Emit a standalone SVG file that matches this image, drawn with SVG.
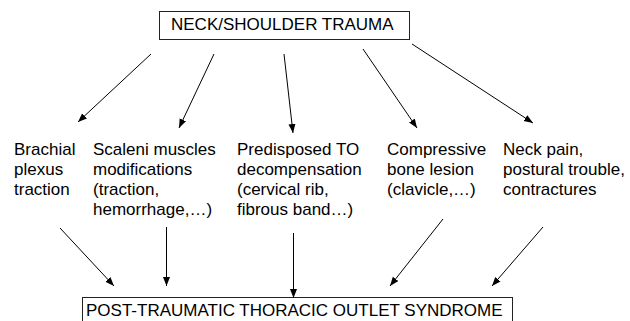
<svg xmlns="http://www.w3.org/2000/svg" width="630" height="321" viewBox="0 0 630 321">
<style>
text{font-family:"Liberation Sans",Arial,sans-serif;font-size:17px;fill:#000}
.box{fill:#fff;stroke:#222;stroke-width:1}
.c{stroke:#000;stroke-width:1;fill:none;marker-end:url(#ah)}
</style>
<defs>
<marker id="ah" markerUnits="userSpaceOnUse" markerWidth="10" markerHeight="8" refX="9" refY="3.5" orient="auto">
<path d="M0,0 L9,3.5 L0,7 z" fill="#000"/>
</marker>
</defs>
<rect width="630" height="321" fill="#fff"/>
<g id="top">
<rect class="box" x="159.5" y="11.5" width="250" height="28"/>
<text x="171" y="30">NECK/SHOULDER TRAUMA</text>
</g>
<g id="brachial">
<text x="14" y="155">Brachial</text>
<text x="14" y="175">plexus</text>
<text x="14" y="195">traction</text>
</g>
<g id="scaleni">
<text x="93" y="155">Scaleni muscles</text>
<text x="93" y="175">modifications</text>
<text x="93" y="195">(traction,</text>
<text x="93" y="215">hemorrhage,…)</text>
</g>
<g id="predisposed">
<text x="237" y="155">Predisposed TO</text>
<text x="237" y="175">decompensation</text>
<text x="237" y="195">(cervical rib,</text>
<text x="237" y="215">fibrous band…)</text>
</g>
<g id="compressive">
<text x="387" y="155">Compressive</text>
<text x="387" y="175">bone lesion</text>
<text x="387" y="195">(clavicle,…)</text>
</g>
<g id="neck">
<text x="503" y="155">Neck pain,</text>
<text x="503" y="175">postural trouble,</text>
<text x="503" y="195">contractures</text>
</g>
<g id="bottom">
<rect class="box" x="82.5" y="297.5" width="430" height="30"/>
<text x="86" y="316">POST-TRAUMATIC THORACIC OUTLET SYNDROME</text>
</g>
<g id="connectors">
<line class="c" x1="151" y1="54" x2="78" y2="122"/>
<line class="c" x1="214" y1="54" x2="179" y2="128"/>
<line class="c" x1="284" y1="54" x2="293" y2="133"/>
<line class="c" x1="363" y1="49" x2="417" y2="128"/>
<line class="c" x1="412" y1="44" x2="533" y2="123"/>
<line class="c" x1="60" y1="228" x2="114" y2="286"/>
<line class="c" x1="166.5" y1="227" x2="166.5" y2="286"/>
<line class="c" x1="293.5" y1="233" x2="293.5" y2="298"/>
<line class="c" x1="443" y1="219" x2="390" y2="286"/>
<line class="c" x1="543" y1="227" x2="492" y2="286"/>
</g>
</svg>
